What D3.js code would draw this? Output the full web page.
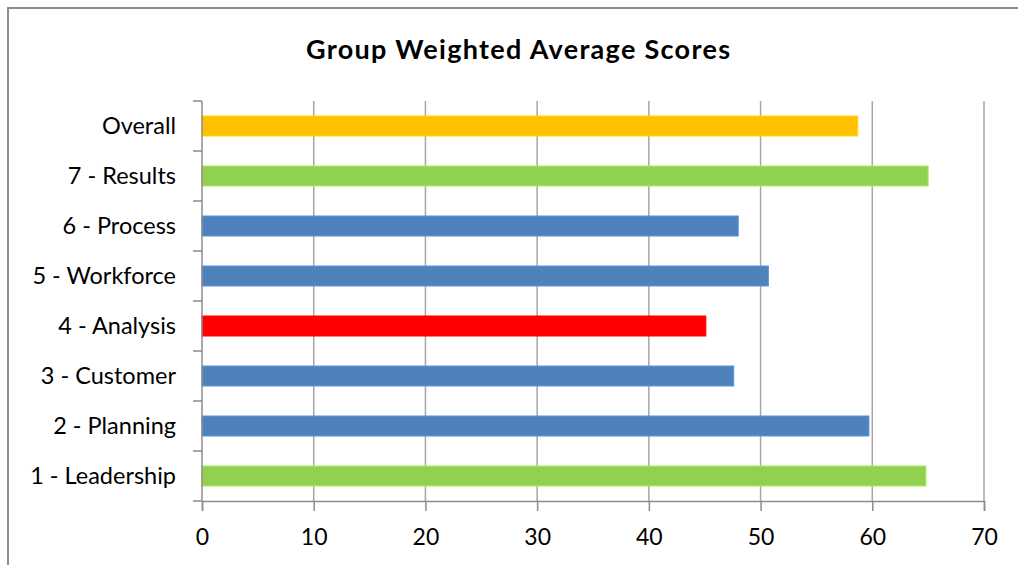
<!DOCTYPE html>
<html>
<head>
<meta charset="utf-8">
<script src="https://cdn.jsdelivr.net/npm/d3@7"></script>
<style>
  html, body { margin: 0; padding: 0; background: #fff; }
  text { font-family: Lato, "Open Sans", sans-serif; fill: #000; }
</style>
</head>
<body>
<div id="chart"></div>
<script>

var categories = ["Overall", "7 - Results", "6 - Process", "5 - Workforce",
	"4 - Analysis", "3 - Customer", "2 - Planning", "1 - Leadership"];
var scores = [58.7, 65.0, 48.0, 50.7, 45.1, 47.6, 59.7, 64.8];
var barColors = ["#FFC000", "#92D050", "#4F81BD", "#4F81BD",
	"#FF0000", "#4F81BD", "#4F81BD", "#92D050"];
var xTicks = [0, 10, 20, 30, 40, 50, 60, 70];

var width = 1018,
	height = 565;

var svg = d3.select("#chart")
	.append("svg")
	.attr("width", width)
	.attr("height", height);

// outer chart frame
svg.append("rect")
	.attr("x", 8)
	.attr("y", 8)
	.attr("width", width + 20)
	.attr("height", height + 20)
	.attr("fill", "none")
	.attr("stroke", "#8c8c8c")
	.attr("stroke-width", 2);

svg.append("text")
	.attr("x", 518)
	.attr("y", 59)
	.attr("text-anchor", "middle")
	.attr("textLength", 424)
	.attr("lengthAdjust", "spacing")
	.style("font-size", "27px")
	.style("font-weight", "bold")
	.text("Group Weighted Average Scores");

var x = d3.scaleLinear()
	.domain([0, 70])
	.range([202, 984]);

var y = d3.scaleBand()
	.domain(categories)
	.range([101, 501])
	.paddingInner(0.6)
	.paddingOuter(0.3);

var g = svg.append("g");

// vertical gridlines
g.selectAll("line.grid")
	.data(xTicks.slice(1))
	.enter()
	.append("line")
	.attr("class", "grid")
	.attr("x1", function(d){ return x(d); })
	.attr("x2", function(d){ return x(d); })
	.attr("y1", 101)
	.attr("y2", 501)
	.attr("stroke", "#a6a6a6")
	.attr("stroke-width", 1.5);

// bars
g.selectAll("rect.bar")
	.data(scores)
	.enter()
	.append("rect")
	.attr("class", "bar")
	.attr("x", x(0))
	.attr("y", function(d, i){ return y(categories[i]); })
	.attr("width", function(d){ return x(d) - x(0); })
	.attr("height", y.bandwidth())
	.attr("fill", function(d, i){ return barColors[i]; })
	.attr("stroke", function(d, i){ return d3.color(barColors[i]).brighter(0.4); })
	.attr("stroke-width", 1);

// bottom axis
var xAxis = svg.append("g")
	.attr("transform", "translate(0,501)")
	.call(d3.axisBottom(x).tickValues(xTicks).tickSize(10).tickPadding(18));

xAxis.select(".domain").attr("stroke", "#8c8c8c").attr("stroke-width", 1.5);
xAxis.selectAll(".tick line").attr("stroke", "#8c8c8c").attr("stroke-width", 1.5);
xAxis.selectAll(".tick text")
	.style("font-size", "23px")
	.attr("fill", "#000");

// left axis, ticks sit on category boundaries
var boundaries = d3.range(categories.length + 1).map(function(i){
	return 101 + i * (400 / categories.length);
});

svg.append("line")
	.attr("x1", x(0)).attr("x2", x(0))
	.attr("y1", 101).attr("y2", 501)
	.attr("stroke", "#8c8c8c")
	.attr("stroke-width", 1.5);

svg.selectAll("line.ytick")
	.data(boundaries)
	.enter()
	.append("line")
	.attr("class", "ytick")
	.attr("x1", x(0) - 9).attr("x2", x(0))
	.attr("y1", function(d){ return d; })
	.attr("y2", function(d){ return d; })
	.attr("stroke", "#8c8c8c")
	.attr("stroke-width", 1.5);

svg.selectAll("text.ylabel")
	.data(categories)
	.enter()
	.append("text")
	.attr("class", "ylabel")
	.attr("x", 176)
	.attr("y", function(d){ return y(d) + y.bandwidth() / 2; })
	.attr("dy", "0.35em")
	.attr("text-anchor", "end")
	.style("font-size", "23.5px")
	.text(function(d){ return d; });

</script>
</body>
</html>
